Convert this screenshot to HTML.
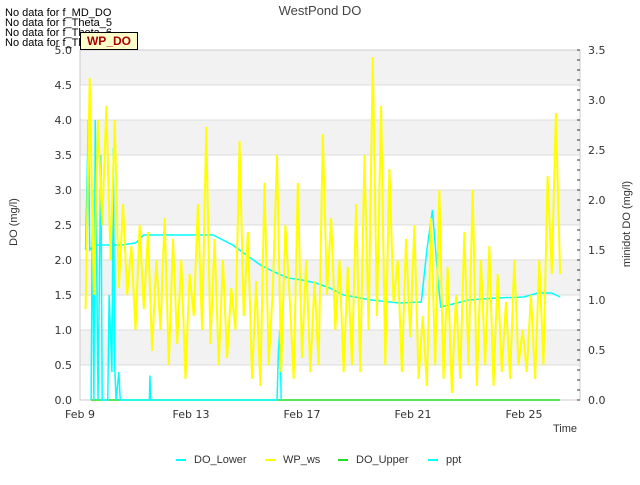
<!DOCTYPE html>
<html><head><meta charset="utf-8"><style>
body{margin:0;background:#fff;font-family:"Liberation Sans","DejaVu Sans",sans-serif}
svg text{font-family:"DejaVu Sans","Liberation Sans",sans-serif}
</style></head><body>
<svg id="c" width="640" height="480" xmlns="http://www.w3.org/2000/svg"></svg>
<script>
const wsStart = 9.2, wsStep = 0.15;
const wpWs = [1.3,4.6,1.5,4.0,2.5,4.2,2.0,4.0,1.6,2.8,
1.5,2.2,1.0,2.5,1.3,2.4,0.7,2.0,1.0,2.6,
0.5,2.3,0.8,2.0,0.3,1.8,1.2,2.8,1.0,3.9,
0.8,2.3,0.5,2.0,0.6,1.6,1.0,3.7,1.2,2.4,
0.3,1.7,0.2,3.1,0.5,1.6,3.5,0.4,2.5,1.5,
0.3,3.1,0.6,2.0,0.4,1.7,0.5,3.8,1.5,2.6,
1.0,2.0,0.4,1.9,0.5,2.8,0.4,3.5,1.0,4.9,
1.2,4.2,0.5,3.3,1.4,2.0,0.4,2.3,0.9,2.5,
0.3,1.2,0.2,2.6,0.5,3.0,0.3,1.9,0.1,1.5,
0.3,2.4,0.5,3.0,0.2,2.0,0.5,2.2,0.2,1.8,
0.4,1.4,0.3,2.0,0.5,1.0,0.4,1.5,0.3,2.0,
0.5,3.2,1.8,4.1,1.8];
const doDays = [9.2,9.3,9.35,9.5,10.0,10.5,11.0,11.3,12.0,13.0,13.8,14.5,15.0,15.5,16.0,16.5,17.0,17.5,18.0,18.5,19.5,20.5,21.3,21.5,21.7,21.9,22.0,23.0,24.0,25.0,25.5,26.0,26.3];
const doLower = [1.5,2.8,1.5,1.55,1.55,1.55,1.57,1.65,1.65,1.65,1.65,1.55,1.45,1.35,1.28,1.22,1.2,1.17,1.12,1.05,1.0,0.97,0.98,1.5,1.9,1.2,0.93,1.0,1.02,1.03,1.07,1.07,1.03];
const pptDays = [9.4,9.45,9.5,9.55,9.6,9.65,9.75,9.8,10.0,10.05,10.15,10.2,10.25,10.3,10.4,10.45,11.5,11.52,11.55,16.1,16.15,16.2,16.25];
const pptVals = [0,3.0,0,4.0,2.0,0,3.5,0,0,1.5,0.4,3.6,0.5,0,0.4,0,0,0.35,0,0,0.7,1.0,0];
const xTicks = [9,13,17,21,25];
const yTicks = [0,0.5,1,1.5,2,2.5,3,3.5,4,4.5,5];
const y2Ticks = [0,0.5,1,1.5,2,2.5,3,3.5];

const svg=document.getElementById('c');const NS='http://www.w3.org/2000/svg';
const L=80,R=580,T=50,B=400;
const xs=d=>L+(d-9)*27.75;
const ys=v=>B-v*70;
const ys2=v=>B-v*100;
function el(t,a,txt){const e=document.createElementNS(NS,t);for(const k in a)e.setAttribute(k,a[k]);if(txt!==undefined)e.textContent=txt;svg.appendChild(e);return e;}
for(let i=0;i<5;i++){const b=el('rect',{x:L,y:ys(1+i),width:R-L,height:35,fill:'#f2f2f2'});

}
yTicks.forEach(v=>{const g=el('line',{x1:L,x2:R,y1:ys(v),y2:ys(v),stroke:'#dcdcdc','stroke-width':1});


const t=el('text',{x:L-8,y:ys(v)+4,'text-anchor':'end','font-size':11,fill:'#333'},v.toFixed(1));

});
el('rect',{x:L,y:T,width:R-L,height:B-T,fill:'none',stroke:'#ccc'});
y2Ticks.forEach(v=>{const t=el('text',{x:R+8,y:ys2(v)+4,'font-size':11,fill:'#333'},v.toFixed(1));

});
for(let i=0;i<=35;i++){el('line',{x1:R-3,x2:R,y1:ys2(i/10),y2:ys2(i/10),stroke:'#333'});}
xTicks.forEach(d=>{const t=el('text',{x:xs(d),y:418,'text-anchor':'middle','font-size':11,fill:'#333'},'Feb '+d);

});
const up=el('line',{x1:xs(9.4),x2:xs(26.3),y1:ys(0),y2:ys(0),stroke:'#22dd22','stroke-width':1.5});


const pp=el('polyline',{points:pptDays.map((d,i)=>xs(d)+','+ys(pptVals[i])).join(' '),fill:'none',stroke:'#00ffff','stroke-width':1.5});


const dl=el('polyline',{points:doDays.map((d,i)=>xs(d)+','+ys2(doLower[i])).join(' '),fill:'none',stroke:'#00ffff','stroke-width':1.5});


const wl=el('polyline',{points:wpWs.map((v,i)=>xs(wsStart+i*wsStep)+','+ys(v)).join(' '),fill:'none',stroke:'#ffff00','stroke-width':2});


</script>
<div style="position:absolute;left:0;top:0;width:640px;height:480px;pointer-events:none">
<div style="position:absolute;left:0;width:640px;top:3px;text-align:center;font-size:13px;color:#444">WestPond DO</div>
<div style="position:absolute;left:5px;top:8px;font-size:11px;line-height:10px;color:#000">No data for f_MD_DO<br>No data for f_Theta_5<br>No data for f_Theta_6<br>No data for f_Theta_7</div>
<div style="position:absolute;left:80px;top:32px;width:56px;height:16px;background:#ffffcc;border:1px solid #000;font-size:12px;color:#aa0000;font-weight:bold;text-align:center;line-height:16px">WP_DO</div>
<div style="position:absolute;left:-26px;top:216px;width:80px;text-align:center;transform:rotate(-90deg);font-size:11px;color:#333">DO (mg/l)</div>
<div style="position:absolute;left:572px;top:218px;width:110px;text-align:center;transform:rotate(-90deg);font-size:11px;color:#333">minidot DO (mg/l)</div>
<div style="position:absolute;left:553px;top:423px;font-size:11px;color:#333">Time</div>
<div style="position:absolute;top:454px;left:0;width:640px;font-size:11px;color:#333">
<span style="position:absolute;left:176px"><span style="display:inline-block;width:10px;height:2px;background:#00ffff;vertical-align:middle;margin-right:8px"></span>DO_Lower</span>
<span style="position:absolute;left:265px"><span style="display:inline-block;width:10px;height:2px;background:#ffff00;vertical-align:middle;margin-right:8px"></span>WP_ws</span>
<span style="position:absolute;left:338px"><span style="display:inline-block;width:10px;height:2px;background:#22dd22;vertical-align:middle;margin-right:8px"></span>DO_Upper</span>
<span style="position:absolute;left:428px"><span style="display:inline-block;width:10px;height:2px;background:#00ffff;vertical-align:middle;margin-right:8px"></span>ppt</span>
</div>
</div>
</body></html>
